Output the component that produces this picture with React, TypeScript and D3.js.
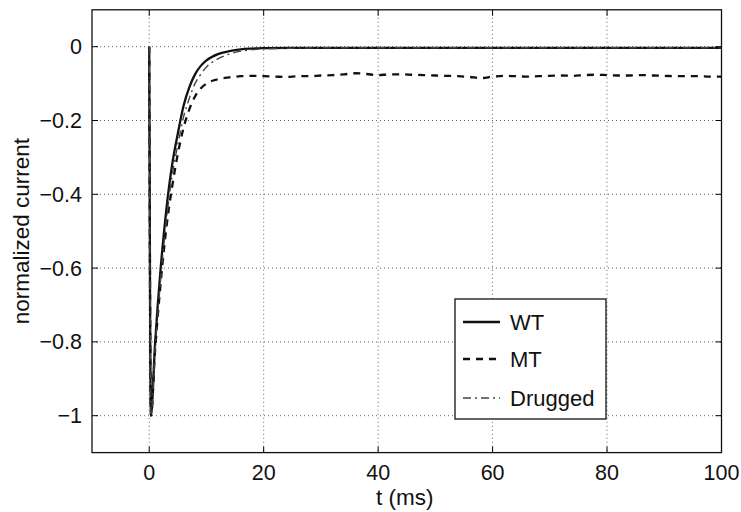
import React from "react";
import * as d3 from "d3";

// time points (ms)
const timeWT = [0, 0.3, 1, 2, 3, 4, 5, 6, 7, 8, 9, 10, 12, 14, 16, 18, 20, 25, 30, 40, 50, 60, 70, 80, 90, 100];
const valuesWT = [0, -1.0, -0.81, -0.6, -0.44, -0.32, -0.235, -0.16, -0.11, -0.075, -0.052, -0.037, -0.02, -0.012, -0.007, -0.005, -0.004, -0.003, -0.003, -0.003, -0.003, -0.003, -0.003, -0.003, -0.003, -0.003];

const timeDrugged = [0, 0.3, 1, 2, 3, 4, 5, 6, 7, 8, 9, 10, 12, 14, 16, 18, 20, 25, 30, 40, 50, 60, 70, 80, 90, 100];
const valuesDrugged = [0, -1.0, -0.83, -0.63, -0.47, -0.35, -0.265, -0.19, -0.14, -0.1, -0.075, -0.055, -0.033, -0.02, -0.012, -0.008, -0.006, -0.004, -0.003, -0.003, -0.003, -0.003, -0.003, -0.003, -0.003, -0.003];

const timeMT = [0, 0.3, 1, 2, 3, 4, 5, 6, 7, 8, 9, 10, 12, 14, 16, 18, 20, 22, 24, 26, 28, 30, 32, 34, 36, 38, 40, 42, 44, 46, 48, 50, 52, 54, 56, 58, 60, 62, 64, 66, 68, 70, 72, 74, 76, 78, 80, 82, 84, 86, 88, 90, 92, 94, 96, 98, 100];
const valuesMT = [0, -1.0, -0.83, -0.64, -0.49, -0.38, -0.29, -0.22, -0.17, -0.135, -0.113, -0.1, -0.088, -0.083, -0.08, -0.079, -0.08, -0.081, -0.082, -0.08, -0.08, -0.078, -0.077, -0.075, -0.072, -0.074, -0.077, -0.075, -0.075, -0.076, -0.077, -0.078, -0.079, -0.08, -0.082, -0.085, -0.081, -0.079, -0.08, -0.081, -0.08, -0.079, -0.078, -0.079, -0.077, -0.076, -0.077, -0.078, -0.078, -0.077, -0.078, -0.079, -0.08, -0.08, -0.08, -0.081, -0.081];

const xTicks = [0, 20, 40, 60, 80, 100];
const yTicks = [0, -0.2, -0.4, -0.6, -0.8, -1];
const yTickLabels = ["0", "\u22120.2", "\u22120.4", "\u22120.6", "\u22120.8", "\u22121"];
const legendLabels = ["WT", "MT", "Drugged"];

const W = 741;
const H = 512;
const M = { left: 92, right: 721.5, top: 9.8, bottom: 452.6 };
const FONT = "'Liberation Sans', Arial, Helvetica, sans-serif";

export default function App() {
  const x = d3.scaleLinear().domain([-10, 100]).range([M.left, M.right]);
  const y = d3.scaleLinear().domain([-1.1, 0.1]).range([M.bottom, M.top]);

  const mk = (ts: number[], vs: number[]) =>
    d3
      .line<number>()
      .x((_, i) => x(ts[i]))
      .y((v) => y(v))
      .curve(d3.curveMonotoneX)(vs) || "";

  const series = [
    { path: mk(timeWT, valuesWT), dash: "none", width: 2.3, color: "#111" },
    { path: mk(timeMT, valuesMT), dash: "7,6", width: 2.3, color: "#111" },
    { path: mk(timeDrugged, valuesDrugged), dash: "8,4,2,4", width: 1.4, color: "#444" },
  ];

  const tickLen = 6;
  const legend = { x: 455, y: 299, w: 151, h: 120 };
  const legendRows = [322, 359, 398];

  return (
    <svg width={W} height={H} style={{ position: "absolute", left: 0, top: 0, background: "#fff" }}>
      <rect x={0} y={0} width={W} height={H} fill="#fff" />
      {/* grid */}
      {xTicks.map((t) => (
        <line key={"gx" + t} x1={x(t)} x2={x(t)} y1={M.top} y2={M.bottom} stroke="#666" strokeWidth={1} strokeDasharray="1,3" />
      ))}
      {yTicks.map((t) => (
        <line key={"gy" + t} x1={M.left} x2={M.right} y1={y(t)} y2={y(t)} stroke="#666" strokeWidth={1} strokeDasharray="1,3" />
      ))}
      {/* data */}
      <g>
        {series.map((s, i) => (
          <path key={i} d={s.path} fill="none" stroke={s.color} strokeWidth={s.width} strokeDasharray={s.dash} strokeLinejoin="round" />
        ))}
      </g>
      {/* ticks */}
      {xTicks.map((t) => (
        <g key={"tx" + t}>
          <line x1={x(t)} x2={x(t)} y1={M.bottom} y2={M.bottom - tickLen} stroke="#000" strokeWidth={1} />
          <line x1={x(t)} x2={x(t)} y1={M.top} y2={M.top + tickLen} stroke="#000" strokeWidth={1} />
          <text x={x(t)} y={480} textAnchor="middle" fontFamily={FONT} fontSize={21.5} fill="#111">
            {String(t)}
          </text>
        </g>
      ))}
      {yTicks.map((t, i) => (
        <g key={"ty" + t}>
          <line x1={M.left} x2={M.left + tickLen} y1={y(t)} y2={y(t)} stroke="#000" strokeWidth={1} />
          <line x1={M.right} x2={M.right - tickLen} y1={y(t)} y2={y(t)} stroke="#000" strokeWidth={1} />
          <text x={82} y={y(t) + 7.5} textAnchor="end" fontFamily={FONT} fontSize={21.5} fill="#111">
            {yTickLabels[i]}
          </text>
        </g>
      ))}
      {/* frame */}
      <rect x={M.left} y={M.top} width={M.right - M.left} height={M.bottom - M.top} fill="none" stroke="#111" strokeWidth={1.3} />
      {/* axis labels */}
      <text x={(M.left + M.right) / 2 - 2} y={505} textAnchor="middle" fontFamily={FONT} fontSize={22.5} fill="#111">
        t (ms)
      </text>
      <text transform={`translate(29,${(M.top + M.bottom) / 2}) rotate(-90)`} textAnchor="middle" fontFamily={FONT} fontSize={22.5} fill="#111">
        normalized current
      </text>
      {/* legend */}
      <rect x={legend.x} y={legend.y} width={legend.w} height={legend.h} fill="#fff" stroke="#111" strokeWidth={1.3} />
      {legendLabels.map((lab, i) => (
        <g key={lab}>
          <line x1={463} x2={500} y1={legendRows[i]} y2={legendRows[i]} stroke={series[i].color} strokeWidth={series[i].width} strokeDasharray={series[i].dash} />
          <text x={510} y={legendRows[i] + 8} fontFamily={FONT} fontSize={22} fill="#111">
            {lab}
          </text>
        </g>
      ))}
    </svg>
  );
}
